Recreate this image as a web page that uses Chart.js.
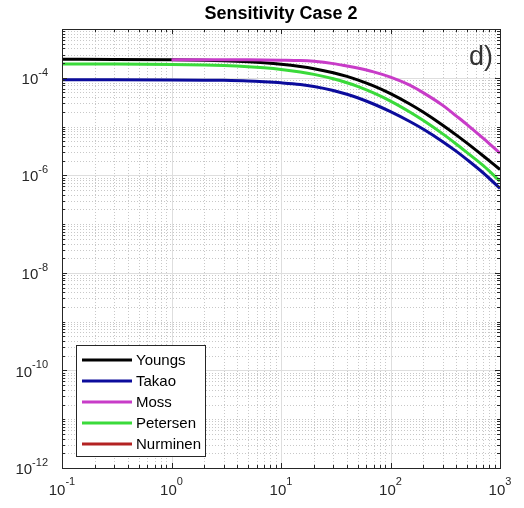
<!DOCTYPE html>
<html>
<head>
<meta charset="utf-8">
<script src="https://cdn.jsdelivr.net/npm/chart.js@4/dist/chart.umd.min.js"></script>
<style>
    html, body { margin: 0; padding: 0; background: #fff; }
    #wrap { width: 524px; height: 508px; }
</style>
</head>
<body>
<div id="wrap"><canvas id="chart"></canvas></div>
<script>
// data
const xValues  = [0.1, 0.3, 1, 2, 3, 5, 7, 10, 15, 20, 30, 40, 50, 70, 100, 150, 200, 300, 400, 500, 700, 1000];
const youngs   = [2.394e-4, 2.382e-4, 2.341e-4, 2.284e-4, 2.23e-4, 2.126e-4, 2.029e-4, 1.896e-4, 1.702e-4, 1.536e-4, 1.269e-4, 1.067e-4, 9.09e-5, 6.83e-5, 4.74e-5, 2.9e-5, 1.96e-5, 1.064e-5, 6.67e-6, 4.57e-6, 2.52e-6, 1.317e-6];
const takao    = [9.1e-5, 9.1e-5, 9.05e-5, 8.95e-5, 8.85e-5, 8.6e-5, 8.3e-5, 7.9e-5, 7.3e-5, 6.65e-5, 5.5e-5, 4.6e-5, 3.9e-5, 2.9e-5, 2.02e-5, 1.27e-5, 8.8e-6, 4.9e-6, 3.1e-6, 2.1e-6, 1.13e-6, 5.4e-7];
const moss     = [null, null, 2.34e-4, 2.34e-4, 2.335e-4, 2.33e-4, 2.32e-4, 2.3e-4, 2.26e-4, 2.17e-4, 1.95e-4, 1.74e-4, 1.58e-4, 1.32e-4, 1.03e-4, 7.05e-5, 4.9e-5, 2.72e-5, 1.64e-5, 1.1e-5, 5.8e-6, 2.84e-6];
const petersen = [1.925e-4, 1.914e-4, 1.877e-4, 1.826e-4, 1.777e-4, 1.684e-4, 1.599e-4, 1.483e-4, 1.315e-4, 1.175e-4, 9.54e-5, 7.9e-5, 6.65e-5, 4.89e-5, 3.33e-5, 1.99e-5, 1.325e-5, 7.07e-6, 4.35e-6, 2.93e-6, 1.6e-6, 7.6e-7];
const nurminen = []; // hidden in the figure, legend only

const seriesNames = ['Youngs', 'Takao', 'Moss', 'Petersen', 'Nurminen'];
const seriesColors = ['#000000', '#0c0c9c', '#c83cc8', '#3ada3a', '#b32222'];
const xTickExps = [-1, 0, 1, 2, 3];
const yTickExps = [-12, -10, -8, -6, -4];
const titleText = 'Sensitivity Case 2';
const panelTag = 'd)';

const FONT = '"Liberation Sans", Arial, Helvetica, sans-serif';
const AXIS = '#262626';

const toPoints = (ys) => ys.map((y, i) => ({ x: xValues[i], y }));
const allSeries = [youngs, takao, moss, petersen, nurminen];

// drawn in MATLAB order: later series on top
const datasets = allSeries.map((ys, i) => ({
    label: seriesNames[i],
    data: toPoints(ys),
    borderColor: seriesColors[i],
    backgroundColor: seriesColors[i],
    borderWidth: 3,
    pointRadius: 0,
    cubicInterpolationMode: 'monotone',
    order: allSeries.length - i,
}));

const decadeValues = (lo, hi) => {
    const out = [];
    for (let e = lo; e < hi; e++) {
        for (let m = 1; m <= 9; m++) out.push({ v: m * Math.pow(10, e), m, e });
    }
    out.push({ v: Math.pow(10, hi), m: 1, e: hi });
    return out;
};

const drawPow = (ctx, exp, x, y, align) => {
    // "10" with a raised exponent
    ctx.fillStyle = AXIS;
    ctx.textBaseline = 'middle';
    ctx.textAlign = 'left';
    ctx.font = '15px ' + FONT;
    const wb = ctx.measureText('10').width;
    ctx.font = '11px ' + FONT;
    const es = String(exp);
    const we = ctx.measureText(es).width;
    const x0 = align === 'right' ? x - wb - we : x - (wb + we) / 2;
    ctx.font = '15px ' + FONT;
    ctx.fillText('10', x0, y.base);
    ctx.font = '11px ' + FONT;
    ctx.fillText(es, x0 + wb, y.exp);
};

const matlabAxes = {
    id: 'matlabAxes',
    beforeDatasetsDraw(chart) {
        const { ctx, chartArea: a, scales } = chart;
        const xs = scales.x, ys = scales.y;
        ctx.save();
        ctx.lineWidth = 1;
        // minor dotted grid
        ctx.strokeStyle = '#c8c8c8';
        ctx.setLineDash([1, 2]);
        for (const t of decadeValues(-1, 3)) {
            if (t.m === 1) continue;
            const px = Math.round(xs.getPixelForValue(t.v)) + 0.5;
            ctx.beginPath(); ctx.moveTo(px, a.top); ctx.lineTo(px, a.bottom); ctx.stroke();
        }
        for (const t of decadeValues(-12, -3)) {
            if (t.m === 1 && t.e % 2 === 0) continue;
            const py = Math.round(ys.getPixelForValue(t.v)) + 0.5;
            ctx.beginPath(); ctx.moveTo(a.left, py); ctx.lineTo(a.right, py); ctx.stroke();
        }
        // major solid grid
        ctx.setLineDash([]);
        ctx.strokeStyle = '#dedede';
        for (const e of xTickExps) {
            const px = Math.round(xs.getPixelForValue(Math.pow(10, e))) + 0.5;
            ctx.beginPath(); ctx.moveTo(px, a.top); ctx.lineTo(px, a.bottom); ctx.stroke();
        }
        for (const e of yTickExps) {
            const py = Math.round(ys.getPixelForValue(Math.pow(10, e))) + 0.5;
            ctx.beginPath(); ctx.moveTo(a.left, py); ctx.lineTo(a.right, py); ctx.stroke();
        }
        ctx.restore();
    },
    afterDatasetsDraw(chart) {
        const { ctx, chartArea: a, scales } = chart;
        const xs = scales.x, ys = scales.y;
        ctx.save();
        ctx.strokeStyle = AXIS;
        ctx.lineWidth = 1;
        // tick marks, inward, on all four sides
        for (const t of decadeValues(-1, 3)) {
            const len = t.m === 1 ? 5 : 3;
            const px = Math.round(xs.getPixelForValue(t.v)) + 0.5;
            ctx.beginPath();
            ctx.moveTo(px, a.bottom); ctx.lineTo(px, a.bottom - len);
            ctx.moveTo(px, a.top); ctx.lineTo(px, a.top + len);
            ctx.stroke();
        }
        for (const t of decadeValues(-12, -3)) {
            const len = (t.m === 1 && t.e % 2 === 0) ? 5 : 3;
            const py = Math.round(ys.getPixelForValue(t.v)) + 0.5;
            ctx.beginPath();
            ctx.moveTo(a.left, py); ctx.lineTo(a.left + len, py);
            ctx.moveTo(a.right, py); ctx.lineTo(a.right - len, py);
            ctx.stroke();
        }
        // box
        ctx.strokeRect(Math.round(a.left) + 0.5, Math.round(a.top) + 0.5,
            Math.round(a.right - a.left), Math.round(a.bottom - a.top));

        // tick labels
        for (const e of xTickExps) {
            const px = xs.getPixelForValue(Math.pow(10, e));
            drawPow(ctx, e, px, { base: a.bottom + 23, exp: a.bottom + 14 }, 'center');
        }
        for (const e of yTickExps) {
            const py = ys.getPixelForValue(Math.pow(10, e));
            drawPow(ctx, e, a.left - 14, { base: py + 2, exp: py - 5 }, 'right');
        }

        // title
        ctx.fillStyle = '#000';
        ctx.font = 'bold 18px ' + FONT;
        ctx.textAlign = 'center';
        ctx.textBaseline = 'middle';
        ctx.fillText(titleText, (a.left + a.right) / 2, 14);

        // panel tag
        ctx.fillStyle = '#333';
        ctx.font = '27px ' + FONT;
        ctx.textAlign = 'right';
        ctx.fillText(panelTag, a.right - 7, a.top + 29);

        // legend box, lower left inside the axes
        const lx = 76.5, ly = 345.5, lw = 129, lh = 111;
        ctx.fillStyle = '#fff';
        ctx.fillRect(lx, ly, lw, lh);
        ctx.strokeStyle = AXIS;
        ctx.strokeRect(lx, ly, lw, lh);
        chart.data.datasets.forEach((ds, i) => {
            const ry = 360 + i * 21;
            ctx.strokeStyle = ds.borderColor;
            ctx.lineWidth = 3;
            ctx.beginPath(); ctx.moveTo(82, ry); ctx.lineTo(132, ry); ctx.stroke();
            ctx.fillStyle = '#000';
            ctx.font = '15px ' + FONT;
            ctx.textAlign = 'left';
            ctx.textBaseline = 'middle';
            ctx.fillText(ds.label, 136, ry + 1);
        });
        ctx.restore();
    },
};

const chart = new Chart(document.getElementById('chart'), {
    type: 'line',
    data: { datasets },
    options: {
        responsive: true,
        maintainAspectRatio: false,
        animation: false,
        layout: { padding: { left: 0, top: 29, right: 24, bottom: 0 } },
        plugins: { legend: { display: false }, title: { display: false }, tooltip: { enabled: false } },
        scales: {
            x: {
                type: 'logarithmic', min: 0.1, max: 1000,
                ticks: { display: false }, grid: { display: false }, border: { display: false },
                afterFit: (s) => { s.height = 40; },
            },
            y: {
                type: 'logarithmic', min: 1e-12, max: 1e-3,
                ticks: { display: false }, grid: { display: false }, border: { display: false },
                afterFit: (s) => { s.width = 62; },
            },
        },
    },
    plugins: [matlabAxes],
});
</script>
</body>
</html>
